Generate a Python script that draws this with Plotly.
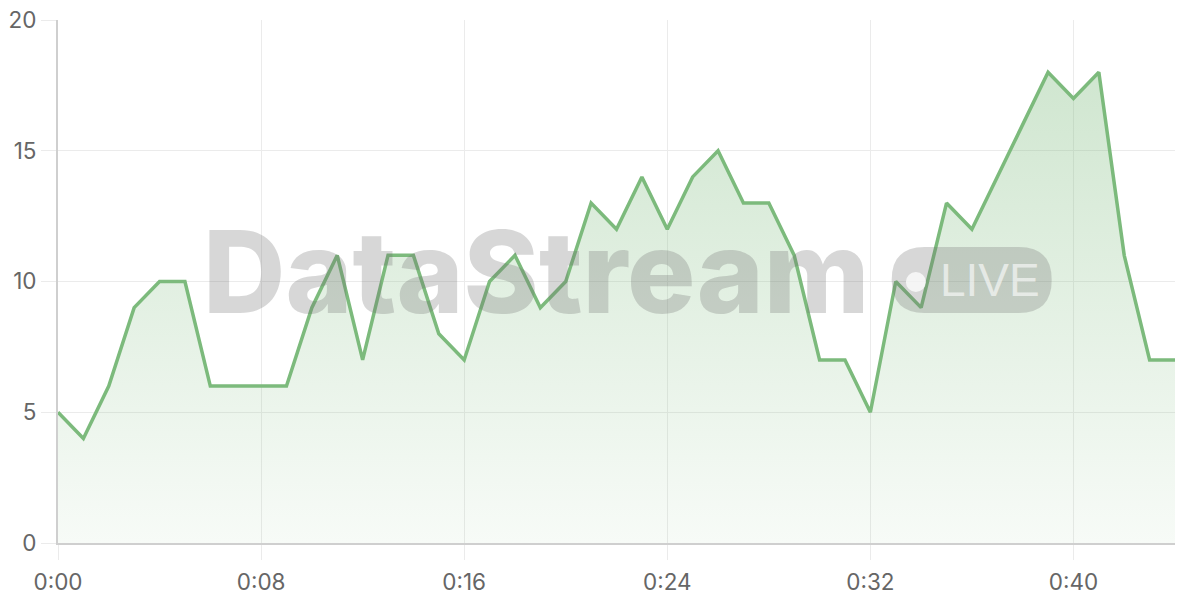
import plotly.graph_objects as go

# seconds since start and the live value at each second
seconds = list(range(45))
values = [5, 4, 6, 9, 10, 10, 6, 6, 6, 6, 9, 11, 7, 11, 11, 8, 7, 10, 11, 9,
          10, 13, 12, 14, 12, 14, 15, 13, 13, 11, 7, 7, 5, 10, 9, 13, 12, 14, 16, 18,
          17, 18, 11, 7, 7]

x_ticks = [0, 8, 16, 24, 32, 40]
x_labels = ["0:00", "0:08", "0:16", "0:24", "0:32", "0:40"]
y_ticks = [0, 5, 10, 15, 20]

green = "rgb(124,186,124)"
grid = "#ebebeb"

fig = go.Figure()
fig.add_trace(go.Scatter(
    x=seconds, y=values, mode="lines",
    line=dict(color=green, width=3.5),
    fill="tozeroy",
    fillgradient=dict(type="vertical",
                      colorscale=[[0, "rgba(124,186,124,0.06)"], [1, "rgba(124,186,124,0.36)"]]),
    hoverinfo="skip", showlegend=False,
))

# watermark
wm = "rgba(110,110,110,0.28)"
fig.add_annotation(text="DataStream", xref="paper", yref="paper", x=0.128, y=0.52,
                   xanchor="left", yanchor="middle", showarrow=False,
                   font=dict(family="Inter", size=114, color=wm, weight=800))
fig.add_shape(type="path", xref="paper", yref="paper", xsizemode="pixel", ysizemode="pixel",
              xanchor=0.818, yanchor=0.503, layer="above", line_width=0, fillcolor=wm,
              path="M -47,-33 L 47,-33 Q 80,-33 80,0 Q 80,33 47,33 L -47,33 Q -80,33 -80,0 Q -80,-33 -47,-33 Z")
fig.add_shape(type="circle", xref="paper", yref="paper", xsizemode="pixel", ysizemode="pixel",
              xanchor=0.768, yanchor=0.499, x0=-10, x1=10, y0=-10, y1=10,
              line_width=0, fillcolor="rgba(255,255,255,0.75)")
fig.add_annotation(text="LIVE", xref="paper", yref="paper", x=0.834, y=0.503,
                   xanchor="center", yanchor="middle", showarrow=False,
                   font=dict(family="Liberation Sans", size=46, color="rgba(255,255,255,0.6)"))

fig.update_layout(
    width=1200, height=600,
    margin=dict(l=58, r=25, t=20, b=57),
    plot_bgcolor="white", paper_bgcolor="white",
    font=dict(family="Inter", size=22.5, color="#666"),
    xaxis=dict(range=[0, 44], tickvals=x_ticks, ticktext=x_labels, automargin=False,
               showgrid=True, gridcolor=grid, gridwidth=1,
               ticks="outside", ticklen=15, tickcolor=grid, ticklabelstandoff=3,
               ticklabeloverflow="allow",
               showline=True, linecolor="#cfcfcf", linewidth=2, zeroline=False),
    yaxis=dict(range=[0, 20], tickvals=y_ticks, automargin=False,
               showgrid=True, gridcolor=grid, gridwidth=1,
               ticks="outside", ticklen=15, tickcolor=grid,
               ticklabeloverflow="allow",
               showline=True, linecolor="#cfcfcf", linewidth=2, zeroline=False),
)

# page sits flush with the window edge, no toolbar
fig.write_html("out.html", config={"displayModeBar": False},
               post_script="document.body.style.margin = '0';")
